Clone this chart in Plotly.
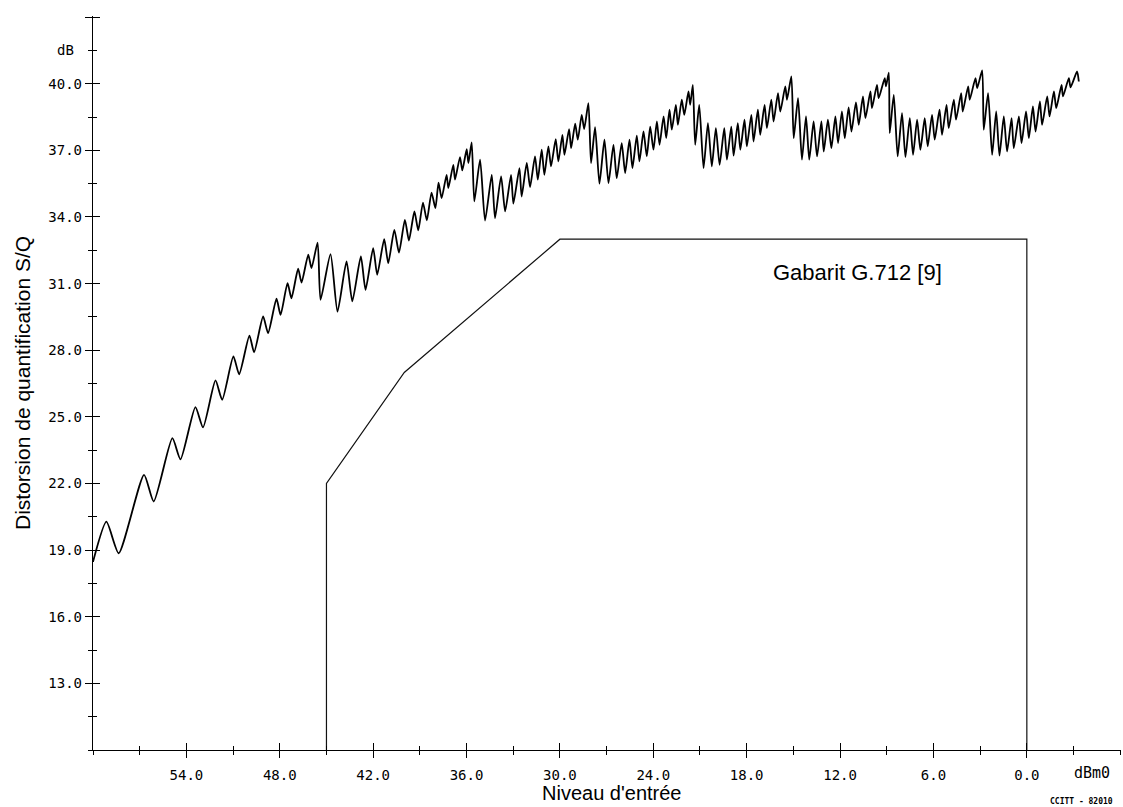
import plotly.graph_objects as go

# ---- S/Q curve (input level in dBm0, S/Q in dB) ----
seg1_level = [-60.0, -59.14, -58.35, -56.72, -56.1, -54.9, -54.38, -53.42, -52.93, -52.13, -51.7,
              -50.98, -50.61, -49.95, -49.65, -49.07, -48.75, -48.21, -47.95, -47.5, -47.25,
              -46.82, -46.6, -46.17, -45.96, -45.57]
seg1_sq = [18.47, 20.28, 18.86, 22.39, 21.19, 24.04, 23.09, 25.44, 24.53, 26.64, 25.77,
           27.72, 26.92, 28.66, 27.91, 29.52, 28.77, 30.32, 29.59, 31.02, 30.34,
           31.67, 31.05, 32.3, 31.7, 32.85]

seg2_level = [-45.38, -44.74, -44.29, -43.71, -43.34, -42.79, -42.49, -42.0, -41.74, -41.29, -41.03,
              -40.64, -40.34, -39.96, -39.7, -39.35, -39.1, -38.8, -38.55, -38.25, -38.0, -37.8,
              -37.6, -37.28, -37.17, -36.85, -36.74, -36.42, -36.27, -35.99, -35.88, -35.67]
seg2_sq = [30.27, 32.33, 29.74, 32.0, 30.2, 32.22, 30.72, 32.6, 31.4, 33.0, 31.92,
           33.42, 32.4, 33.87, 32.94, 34.25, 33.4, 34.65, 33.85, 35.1, 34.4, 35.55,
           34.85, 35.9, 35.3, 36.35, 35.68, 36.7, 36.1, 37.05, 36.43, 37.36]

seg3_level = [-35.5, -35.13, -34.81, -34.38, -34.17, -33.78, -33.52, -33.14, -32.99, -32.6, -32.46,
              -32.13, -31.92, -31.6, -31.42, -31.17, -31.0, -30.74, -30.57, -30.27, -30.1,
              -29.84, -29.71, -29.41, -29.28, -29.02, -28.85, -28.6, -28.44, -28.17]
seg3_sq = [34.7, 36.58, 33.84, 35.9, 33.95, 35.83, 34.25, 35.9, 34.6, 36.2, 34.92,
           36.43, 35.35, 36.73, 35.68, 37.03, 35.9, 37.18, 36.28, 37.5, 36.5,
           37.7, 36.8, 37.96, 37.1, 38.2, 37.48, 38.6, 37.96, 39.13]

seg4_level = [-28.0, -27.74, -27.46, -27.14, -26.88, -26.56, -26.35, -26.03, -25.81, -25.53, -25.34,
              -25.06, -24.89, -24.63, -24.42, -24.2, -23.99, -23.77, -23.6, -23.34, -23.17,
              -22.96, -22.81, -22.55, -22.42, -22.17, -22.01, -21.74, -21.63, -21.46]
seg4_sq = [36.43, 38.04, 35.5, 37.48, 35.53, 37.25, 35.75, 37.33, 35.98, 37.48, 36.2,
           37.66, 36.5, 37.85, 36.73, 38.07, 37.03, 38.3, 37.25, 38.53, 37.55,
           38.83, 37.93, 39.05, 38.15, 39.28, 38.6, 39.65, 39.05, 39.95]

seg5_level = [-21.31, -21.05, -20.77, -20.49, -20.24, -19.98, -19.74, -19.44, -19.27, -18.99, -18.84,
              -18.57, -18.41, -18.14, -17.99, -17.7, -17.56, -17.28, -17.13, -16.85, -16.7,
              -16.42, -16.27, -15.99, -15.84, -15.52, -15.41, -15.13]
seg5_sq = [37.25, 39.05, 36.2, 38.23, 36.28, 38.0, 36.35, 38.0, 36.58, 38.07, 36.76,
           38.23, 37.03, 38.38, 37.18, 38.6, 37.4, 38.83, 37.7, 39.05, 38.0,
           39.28, 38.3, 39.58, 38.75, 39.88, 39.28, 40.33]

seg6_level = [-14.98, -14.7, -14.45, -14.19, -13.98, -13.7, -13.48, -13.2, -13.05, -12.78, -12.56,
              -12.3, -12.13, -11.88, -11.7, -11.45, -11.27, -10.98, -10.8, -10.53, -10.37,
              -10.05, -9.95, -9.63, -9.52, -9.13, -9.05, -8.87]
seg6_sq = [37.55, 39.35, 36.58, 38.53, 36.58, 38.3, 36.73, 38.3, 36.95, 38.38, 37.1,
           38.53, 37.33, 38.75, 37.55, 38.94, 37.85, 39.16, 38.15, 39.43, 38.45,
           39.65, 38.9, 39.95, 39.35, 40.25, 39.88, 40.5]

seg7_level = [-8.81, -8.55, -8.3, -8.02, -7.8, -7.52, -7.31, -7.05, -6.84, -6.56, -6.37,
              -6.09, -5.92, -5.61, -5.45, -5.16, -5.02, -4.69, -4.55, -4.22, -4.12,
              -3.77, -3.67, -3.3, -3.19, -2.87]
seg7_sq = [37.78, 39.5, 36.73, 38.68, 36.7, 38.45, 36.8, 38.38, 37.03, 38.45, 37.18,
           38.6, 37.48, 38.83, 37.7, 39.05, 38.0, 39.28, 38.38, 39.58, 38.75,
           39.88, 39.28, 40.25, 39.8, 40.6]

seg8_level = [-2.77, -2.49, -2.23, -1.97, -1.76, -1.48, -1.27, -0.98, -0.84, -0.51, -0.34,
              -0.05, 0.13, 0.39, 0.56, 0.84, 0.98, 1.31, 1.46, 1.74, 1.89,
              2.23, 2.32, 2.7, 2.81, 3.23, 3.34]
seg8_sq = [37.93, 39.58, 36.8, 38.75, 36.76, 38.53, 36.95, 38.45, 37.1, 38.53, 37.33,
           38.75, 37.55, 38.98, 37.85, 39.2, 38.15, 39.43, 38.53, 39.65, 38.9,
           39.95, 39.43, 40.25, 39.84, 40.55, 40.1]

# ---- G.712 mask ----
mask_level = [-45, -45, -40, -30, 0, 0]
mask_sq = [10, 22, 27, 33, 33, 10]

# ---- axes ----
x_tick_vals = [-54, -48, -42, -36, -30, -24, -18, -12, -6, 0]
x_tick_text = ["54.0", "48.0", "42.0", "36.0", "30.0", "24.0", "18.0", "12.0", "6.0", "0.0"]
y_tick_vals = [13, 16, 19, 22, 25, 28, 31, 34, 37, 40, 43]
y_tick_text = ["13.0", "16.0", "19.0", "22.0", "25.0", "28.0", "31.0", "34.0", "37.0", "40.0", ""]

curve_level = seg1_level + seg2_level + seg3_level + seg4_level + seg5_level + seg6_level + seg7_level + seg8_level
curve_sq = seg1_sq + seg2_sq + seg3_sq + seg4_sq + seg5_sq + seg6_sq + seg7_sq + seg8_sq

fig = go.Figure()
# the mask sits on the overlay axes (same ranges), which draw the inner halves of the cross ticks
fig.add_trace(go.Scatter(x=mask_level, y=mask_sq, mode="lines", xaxis="x2", yaxis="y2",
                         line=dict(color="#111", width=1.2), hoverinfo="skip", showlegend=False))
fig.add_trace(go.Scatter(x=curve_level, y=curve_sq, mode="lines",
                         line=dict(color="#000", width=1.8, shape="spline", smoothing=0.6),
                         showlegend=False))

tick_font = dict(family="DejaVu Sans Mono", size=14, color="#000")
XR = [-60, 6.05]
YR = [10, 43.05]

common_x = dict(range=XR, tickmode="array", tickvals=x_tick_vals, showgrid=False, zeroline=False,
                ticklen=7, tickwidth=1.2, tickcolor="#000")
common_y = dict(range=YR, tickmode="array", tickvals=y_tick_vals, showgrid=False, zeroline=False,
                ticklen=7, tickwidth=1.2, tickcolor="#000")

fig.update_layout(
    width=1123, height=807,
    margin=dict(l=93, r=2, t=16, b=57),
    paper_bgcolor="white", plot_bgcolor="white",
    xaxis=dict(**common_x, ticktext=x_tick_text, ticks="outside", showline=True,
               linecolor="#000", linewidth=1.3, tickfont=tick_font, ticklabelstandoff=5,
               minor=dict(tick0=0, dtick=3, ticks="outside", ticklen=4, tickwidth=1.1, tickcolor="#000")),
    yaxis=dict(**common_y, ticktext=y_tick_text, ticks="outside", showline=True,
               linecolor="#000", linewidth=1.3, tickfont=tick_font,
               minor=dict(tick0=10, dtick=1.5, ticks="outside", ticklen=4, tickwidth=1.1, tickcolor="#000")),
    xaxis2=dict(**common_x, overlaying="x", anchor="y", side="bottom", ticks="inside",
                showticklabels=False, showline=False,
                minor=dict(tick0=0, dtick=3, ticks="inside", ticklen=4, tickwidth=1.1, tickcolor="#000")),
    yaxis2=dict(**common_y, overlaying="y", anchor="x", side="left", ticks="inside",
                showticklabels=False, showline=False,
                minor=dict(tick0=10, dtick=1.5, ticks="inside", ticklen=4, tickwidth=1.1, tickcolor="#000")),
)

ann_font = dict(family="Liberation Sans", size=21, color="#000")
fig.add_annotation(text="Distorsion de quantification S/Q", textangle=-90, xref="paper", yref="paper",
                   x=0, y=0.5, xanchor="center", yanchor="middle", xshift=-71, showarrow=False, font=ann_font)
fig.add_annotation(text="Niveau d'entrée", xref="paper", yref="paper", x=0.5, y=0,
                   xanchor="center", yanchor="middle", yshift=-43, xshift=4, showarrow=False,
                   font=dict(family="Liberation Sans", size=20, color="#000"))
fig.add_annotation(text="Gabarit G.712 [9]", xref="x", yref="y", x=-10.9, y=31.5,
                   xanchor="center", yanchor="middle", showarrow=False,
                   font=dict(family="Liberation Sans", size=22, color="#000"))
fig.add_annotation(text="dB", xref="x", yref="y", x=-60, y=41.5, xanchor="right", yanchor="middle",
                   xshift=-17, showarrow=False, font=tick_font)
fig.add_annotation(text="dBm0", xref="x", yref="y", x=4.2, y=10, xanchor="center", yanchor="middle",
                   yshift=-23, showarrow=False, font=dict(family="DejaVu Sans Mono", size=15, color="#000"))
fig.add_annotation(text="<b>CCITT - 82010</b>", xref="x", yref="y", x=3.5, y=10, xanchor="center",
                   yanchor="middle", yshift=-51, showarrow=False,
                   font=dict(family="DejaVu Sans Mono", size=8, color="#000"))

fig.write_html("out.html", config={"displayModeBar": False},
               post_script="document.body.style.margin='0px';document.body.style.overflow='hidden';")
